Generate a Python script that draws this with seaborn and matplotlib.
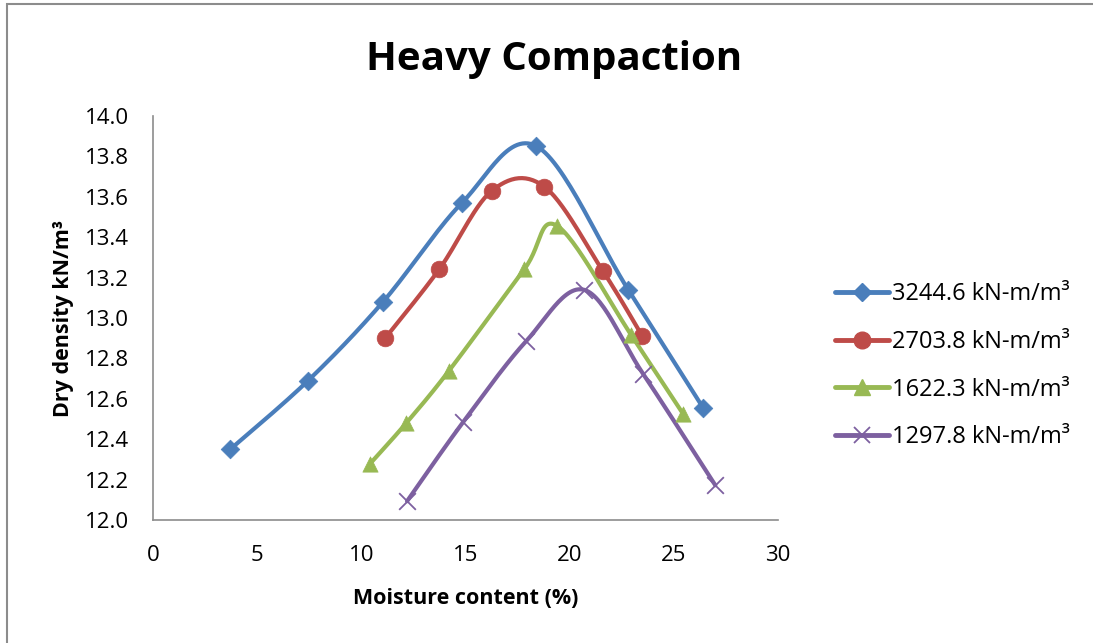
import numpy as np
import pandas as pd
import matplotlib
matplotlib.use("Agg")
import matplotlib.pyplot as plt
import seaborn as sns
from matplotlib.lines import Line2D
from matplotlib.patches import Rectangle

# ---- data ----
labels = ["3244.6 kN-m/m³", "2703.8 kN-m/m³", "1622.3 kN-m/m³", "1297.8 kN-m/m³"]
x_3244 = [3.70, 7.44, 11.04, 14.83, 18.39, 22.80, 26.40]
y_3244 = [12.35, 12.69, 13.08, 13.57, 13.85, 13.14, 12.555]
x_2703 = [11.14, 13.73, 16.27, 18.77, 21.60, 23.48]
y_2703 = [12.90, 13.24, 13.63, 13.65, 13.23, 12.91]
x_1622 = [10.42, 12.15, 14.21, 17.81, 19.40, 22.95, 25.44]
y_1622 = [12.28, 12.48, 12.74, 13.24, 13.455, 12.915, 12.525]
x_1297 = [12.19, 14.88, 17.91, 20.69, 23.52, 26.98]
y_1297 = [12.094, 12.485, 12.886, 13.139, 12.723, 12.173]
xticks = [0, 5, 10, 15, 20, 25, 30]
yticks = [12.0, 12.2, 12.4, 12.6, 12.8, 13.0, 13.2, 13.4, 13.6, 13.8, 14.0]

series = [(x_3244, y_3244), (x_2703, y_2703), (x_1622, y_1622), (x_1297, y_1297)]
colors = ["#4A7EBB", "#BE4B48", "#98B954", "#7D60A0"]
markers = ["D", "o", "^", "x"]
msizes = [9.5, 12, 11, 12]

sns.set_theme(style="white")
plt.rcParams['font.family'] = ['Open Sans', 'DejaVu Sans']
plt.rcParams['text.color'] = 'black'

fig = plt.figure(figsize=(10.93, 6.43), dpi=100)
ax = fig.add_axes([0.140, 0.191, 0.572, 0.629])

XSC, YSC = 20.83, 202.0  # approx screen scale for Excel-like smoothing


def smooth(xs, ys, n=30):
    P = np.column_stack([np.array(xs) * XSC, np.array(ys) * YSC])
    out = []
    m = len(P)
    for i in range(m - 1):
        p0 = P[i - 1] if i > 0 else P[i]
        p1, p2 = P[i], P[i + 1]
        p3 = P[i + 2] if i + 2 < m else P[i + 1]
        c1 = p1 + (p2 - p0) / 6.0
        c2 = p2 - (p3 - p1) / 6.0
        t = np.linspace(0, 1, n)[:, None]
        seg = ((1 - t) ** 3) * p1 + 3 * ((1 - t) ** 2) * t * c1 + 3 * (1 - t) * t ** 2 * c2 + t ** 3 * p2
        out.append(seg if i == 0 else seg[1:])
    S = np.vstack(out)
    return S[:, 0] / XSC, S[:, 1] / YSC


for (xs, ys), c, mk, ms, lab in zip(series, colors, markers, msizes, labels):
    sx, sy = smooth(xs, ys)
    df_s = pd.DataFrame({"x": sx, "y": sy})
    sns.lineplot(data=df_s, x="x", y="y", ax=ax, color=c, lw=3.0, sort=False,
                 estimator=None, legend=False)
    df = pd.DataFrame({"x": xs, "y": ys})
    if mk == "x":
        sns.scatterplot(data=df, x="x", y="y", ax=ax, color=c, marker="x",
                        s=ms ** 2, linewidth=1.3, legend=False, zorder=3)
    else:
        sns.scatterplot(data=df, x="x", y="y", ax=ax, color=c, marker=mk,
                        s=ms ** 2, edgecolor=c, linewidth=0.5, legend=False, zorder=3)

ax.set_xlim(0, 30)
ax.set_ylim(12.0, 14.0)
ax.set_xticks(xticks)
ax.set_yticks(yticks)
ax.set_yticklabels([f"{v:.1f}" for v in yticks])
ax.tick_params(axis="y", length=0, labelsize=16, pad=17, colors="black")
ax.tick_params(axis="x", length=0, labelsize=16, pad=18, colors="black")
for s in ["top", "right"]:
    ax.spines[s].set_visible(False)
for s in ["left", "bottom"]:
    ax.spines[s].set_color("#8C8C8C")
    ax.spines[s].set_linewidth(1.2)

ax.set_xlabel("Moisture content (%)", fontsize=15.5, fontweight="bold", color="black")
ax.set_ylabel("Dry density kN/m³", fontsize=15.5, fontweight="bold", color="black")
ax.yaxis.set_label_coords(-0.126, 0.5)
ax.xaxis.set_label_coords(0.5, -0.168)
fig.text(0.507, 0.907, "Heavy Compaction", fontsize=29, fontweight="bold",
         ha="center", va="center", color="black")

handles = []
for c, mk, ms in zip(colors, markers, msizes):
    if mk == "x":
        handles.append(Line2D([], [], color=c, lw=3.5, marker="x", markersize=ms,
                              markeredgewidth=1.3))
    else:
        handles.append(Line2D([], [], color=c, lw=3.5, marker=mk, markersize=ms,
                              markeredgecolor=c))
leg = fig.legend(handles, labels, loc="center left", bbox_to_anchor=(0.764, 0.431),
                 frameon=False, fontsize=17, handlelength=2.3, handletextpad=0.12,
                 labelspacing=1.0, borderpad=0, borderaxespad=0)
for t in leg.get_texts():
    t.set_color("black")

fig.add_artist(Rectangle((7 / 1093, -0.1), 1.2, 1.1 - 4 / 643, transform=fig.transFigure,
                         fill=False, edgecolor="#8C8C8C", lw=1.5))

fig.savefig("out.png", dpi=100)
